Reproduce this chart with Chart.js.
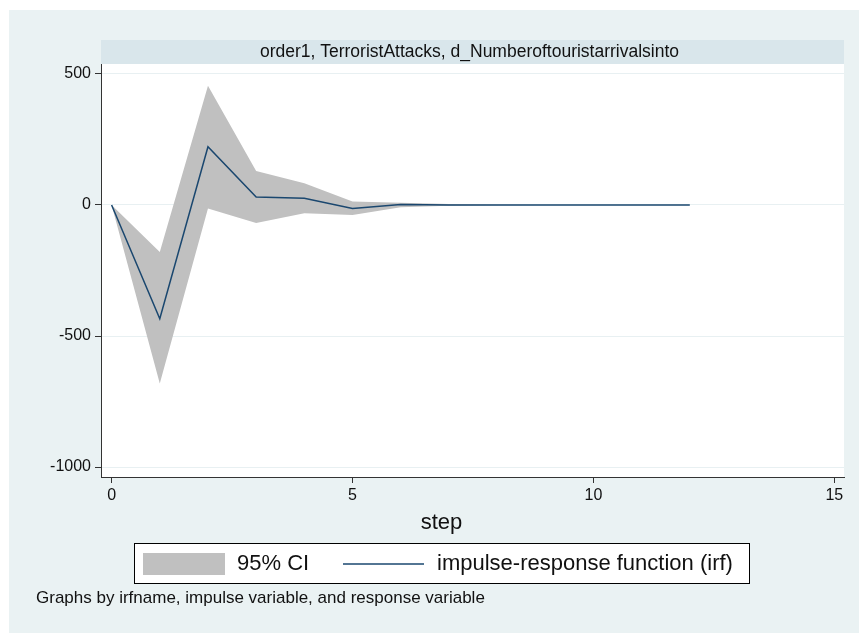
<!DOCTYPE html>
<html>
<head>
<meta charset="utf-8">
<script src="https://cdn.jsdelivr.net/npm/chart.js@4/dist/chart.umd.min.js"></script>
<style>
  body { margin: 0; background: #fff; }
  canvas { display: block; }
</style>
</head>
<body>
<canvas id="irfChart" width="859" height="633"></canvas>
<script>
const steps = [0, 1, 2, 3, 4, 5, 6, 7, 8, 9, 10, 11, 12];
const irf   = [0, -434, 222, 30, 26, -13, 2, 0, 0, 0, 0, 0, 0];
const upper = [0, -179, 455, 130, 83, 13, 9, 4, 1, 0, 0, 0, 0];
const lower = [0, -681, -13, -69, -32, -38, -9, -3, -1, 0, 0, 0, 0];
const yTicks = [-1000, -500, 0, 500];
const xTicks = [0, 5, 10, 15];

const titleText = "order1, TerroristAttacks, d_Numberoftouristarrivalsinto";
const noteText = "Graphs by irfname, impulse variable, and response variable";
const fontFamily = "'Liberation Sans', Arial, sans-serif";
const navy = "#1a476f";
const bandGrey = "#c0c0c0";

function pts(vals) {
    return steps.map(function (s, i) { return { x: s, y: vals[i] }; });
}

// stata-like frame: outer panel, title strip, legend box, note
const stataFrame = {
    id: "stataFrame",
    beforeDraw: function (chart) {
        const ctx = chart.ctx;
        const a = chart.chartArea;
        ctx.save();
        ctx.fillStyle = "#ffffff";
        ctx.fillRect(0, 0, chart.width, chart.height);
        ctx.fillStyle = "#eaf2f3";
        ctx.fillRect(9, 10, chart.width - 9, chart.height - 10);
        ctx.fillStyle = "#ffffff";
        ctx.fillRect(a.left, a.top, a.right - a.left, a.bottom - a.top);
        ctx.fillStyle = "#d9e6eb";
        ctx.fillRect(a.left, 40, a.right - a.left, a.top - 40);
        ctx.fillStyle = "#111";
        ctx.font = "17.5px " + fontFamily;
        ctx.textAlign = "center";
        ctx.textBaseline = "middle";
        ctx.fillText(titleText, (a.left + a.right) / 2 - 3, 52);
        ctx.restore();
    },
    afterDraw: function (chart) {
        const ctx = chart.ctx;
        const a = chart.chartArea;
        ctx.save();
        ctx.fillStyle = "#111";
        ctx.textBaseline = "middle";
        ctx.textAlign = "center";
        ctx.font = "22px " + fontFamily;
        ctx.fillText("step", (a.left + a.right) / 2 - 31, 523);

        // legend
        ctx.fillStyle = "#ffffff";
        ctx.fillRect(134, 543, 615, 40);
        ctx.strokeStyle = "#000";
        ctx.lineWidth = 1;
        ctx.strokeRect(134.5, 543.5, 615, 40);
        ctx.fillStyle = bandGrey;
        ctx.fillRect(143, 553, 82, 22);
        ctx.strokeStyle = navy;
        ctx.lineWidth = 1.5;
        ctx.beginPath();
        ctx.moveTo(343, 564);
        ctx.lineTo(424, 564);
        ctx.stroke();
        ctx.fillStyle = "#111";
        ctx.textAlign = "left";
        ctx.font = "22px " + fontFamily;
        ctx.fillText("95% CI", 237, 564);
        ctx.fillText("impulse-response function (irf)", 437, 564);

        ctx.font = "17px " + fontFamily;
        ctx.fillText(noteText, 36, 598);
        ctx.restore();
    }
};

const tickFont = { family: fontFamily, size: 16 };

new Chart(document.getElementById("irfChart"), {
    type: "line",
    data: {
        datasets: [
            {
                label: "impulse-response function (irf)",
                data: pts(irf),
                borderColor: navy,
                borderWidth: 1.5,
                pointRadius: 0,
                fill: false,
                tension: 0,
                order: 0
            },
            {
                label: "95% CI",
                data: pts(upper),
                borderWidth: 0,
                borderColor: "rgba(0,0,0,0)",
                backgroundColor: bandGrey,
                pointRadius: 0,
                fill: "+1",
                tension: 0,
                order: 1
            },
            {
                label: "lower",
                data: pts(lower),
                borderWidth: 0,
                borderColor: "rgba(0,0,0,0)",
                pointRadius: 0,
                fill: false,
                tension: 0,
                order: 2
            }
        ]
    },
    options: {
        responsive: false,
        animation: false,
        devicePixelRatio: 1,
        layout: { padding: { top: 64, right: 15, left: 0, bottom: 0 } },
        plugins: {
            legend: { display: false },
            title: { display: false },
            tooltip: { enabled: false }
        },
        scales: {
            x: {
                type: "linear",
                min: -0.22,
                max: 15.2,
                afterBuildTicks: function (s) {
                    s.ticks = xTicks.map(function (v) { return { value: v }; });
                },
                afterFit: function (s) { s.height = 156; },
                ticks: { font: tickFont, color: "#111", padding: 3, maxRotation: 0,
                         callback: function (v) { return String(v); } },
                grid: { drawOnChartArea: false, tickColor: "#333", tickLength: 6 },
                border: { color: "#333", width: 1 }
            },
            y: {
                type: "linear",
                min: -1038,
                max: 538,
                afterBuildTicks: function (s) {
                    s.ticks = yTicks.map(function (v) { return { value: v }; });
                },
                afterFit: function (s) { s.width = 101; },
                ticks: { font: tickFont, color: "#111", padding: 4,
                         callback: function (v) { return String(v); } },
                grid: { color: "#e8f0f2", tickColor: "#333", tickLength: 6, lineWidth: 1 },
                border: { color: "#333", width: 1 }
            }
        }
    },
    plugins: [stataFrame]
});
</script>
</body>
</html>
